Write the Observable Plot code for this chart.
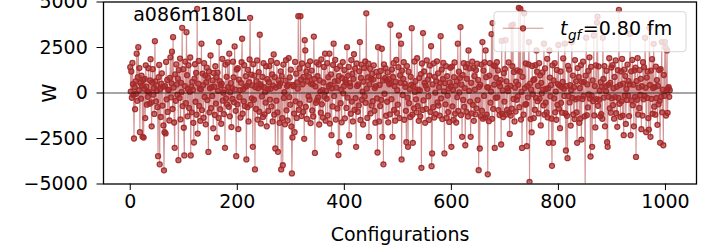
<!DOCTYPE html>
<html>
<head>
<meta charset="utf-8">
<script src="https://cdn.jsdelivr.net/npm/d3@7"></script>
<script src="https://cdn.jsdelivr.net/npm/@observablehq/plot@0.6"></script>
<style>
  html, body { margin: 0; padding: 0; background: white; }
  #chart svg { display: block; }
</style>
</head>
<body>
<div id="chart"></div>
<script>
// W per configuration (index = configuration number)
const W = [
  1420, 80, 1180, -260, 1650, 490, -110, -2500, 330, -890, 640, -40, 2160, -430, 870, 2520, 150, 1370, -2150, 560,
  -310, 960, 410, -2410, 720, -2450, 240, 780, -1380, 1520, 350, -640, 90, -210, 1360, 40, -590, 690, 1860, -520,
  -1830, 580, 1310, -90, 270, -1150, 2850, 640, -460, 420, 130, -780, -3470, 870, 1540, -3920, 210, -1320, 510, 1080,
  -690, 340, -1780, -4250, -2150, 380, -2220, 1710, -350, 720, -1040, 190, 160, -1510, 830, 1960, -240, 530, 2270, -880,
  3070, 300, -1620, -3010, 1020, -430, 1570, 470, -90, 790, -3690, 1260, -270, 1890, -1450, 560, 60, 3580, -720, 1310,
  -1910, -3430, 380, 1720, -560, 3340, 980, -1280, 220, 1520, -830, 70, 1950, -3430, 340, -1060, 610, 170, -1640, -2720,
  790, 1580, -480, 1110, -1190, 4620, -2230, 510, 1760, -710, 230, -1530, 210, 2710, -940, 1070, 430, -1360, 1640, -220,
  960, -1720, 580, 1390, -390, 840, -3240, 1180, -1060, 260, 2060, -830, 320, -160, 690, -1940, 1100, 350, -1210, 1470,
  -580, 870, -2460, 1120, 120, -1370, 2800, 650, -890, 430, -1690, 510, 1870, -420, 20, -1160, 180, -3010, 1560, -290,
  890, -620, 1680, 320, -760, 2160, -1280, 40, 540, -1870, 270, -330, 1720, 860, -510, 2560, 190, -980, -3470, 1290,
  -620, 1360, -1980, 730, -230, 150, -1350, 560, 1690, 2980, -1140, 210, -460, 1530, -720, 340, 920, -3650, 380, -780,
  1270, -1560, 590, 1840, 4130, -640, 1010, -290, 420, -2960, 1580, -370, 960, -4200, 320, -880, 650, 1790, -1460, 260,
  1150, -1030, 3200, 480, -1680, 370, -190, 880, -1320, 1640, 320, -1170, 50, -530, 1470, -1830, 760, 210, -980, 590,
  1480, -360, 230, 1760, -740, 1020, -1560, 410, 2120, -1190, 870, -3050, 300, -420, 1650, -1070, -3230, 690, 390, -1640,
  520, 1190, -4200, 930, -1380, -3970, 1560, -270, 40, -1720, 680, 1810, -950, 370, -1510, 450, 1920, -230, 860, -640,
  1280, -1840, -4420, -2440, 450, 370, -1130, -2150, 1710, -460, 1060, -1370, 580, 240, 4220, -920, 1350, -590, 4220, 730,
  -1270, 1620, 480, -1040, 890, -2520, 2900, 2340, -760, 1180, -1420, 640, 1530, -180, 890, -370, 1740, -1650, 510, 1230,
  -960, 470, -1290, 3100, 780, -3290, 360, -540, 1680, -410, 920, -240, 1570, -1730, 690, 90, -1080, 1850, -620, 160,
  -1350, 580, 1430, -190, 2160, -1520, 110, -310, 1640, -1230, 870, 390, 2160, -1680, 450, 1020, -2320, 250, -740, 1540,
  2710, -170, 640, 1820, -1460, 290, 1330, -850, 670, -3410, 930, -2700, 1480, -560, 190, -1610, 820, 1700, -20, 370,
  1260, -1390, 710, 580, -820, 2520, -250, 960, 1430, -2320, 540, 370, -1140, 1810, -470, 1050, -1560, 780, 2130, -930,
  1340, -280, -2960, 1620, 390, -1030, 470, -680, 1190, 2800, -1480, 830, 1560, -370, 70, -1730, 620, 1380, -190, 1730,
  -540, 4380, 240, -1370, 860, 1610, -2410, 470, 1330, -1120, 780, -690, 1050, -450, 740, 1520, -980, 270, -1630, 380,
  1160, -290, -3270, 2520, 930, -1560, 440, -720, 1210, -380, 2430, -2410, 690, -3920, 1570, -40, 820, 1360, -1250, 690,
  -480, 1130, -1610, 760, 480, -1170, 3750, 540, -340, 1290, -2410, 880, 1640, -930, 370, -1520, 610, 1820, -1090, 150,
  -640, 1420, 3160, -1380, 970, 560, 2710, -3650, 1230, -110, 780, 1690, -1470, 520, 340, -980, -2700, 1480, -250, -2960,
  1170, -560, 210, -1320, 890, 440, 3560, -1190, -2740, 380, -840, 1730, 60, 650, -350, -1060, 1910, -720, 190, -1530,
  820, 140, -1280, 1040, -4110, 1620, -930, 3290, -410, 1180, 560, -1640, 410, -870, 1790, 230, 730, -180, -1480, 960,
  1510, -1040, 2570, -4020, -3320, 470, -780, 1630, -1350, 890, 20, -1160, 640, 1740, -520, 1080, -690, 310, -1240, 560,
  3120, -290, 1290, -1430, 760, 1650, 90, -3320, 540, -620, 1480, -1370, 920, -140, -1050, 240, -1590, 580, 1390, 360,
  -2960, 1450, -730, 170, -1480, 870, 1680, -1140, 410, -1620, 640, -230, 2710, -980, 1170, 30, 820, 3620, -1210, 460,
  -2410, 990, -380, 1640, -760, 270, -2870, 1420, -1040, 780, 1590, -1290, 2340, 120, 1350, -470, -2410, 560, -1120, 1720,
  -650, 1380, -1530, 930, 190, -1170, 1260, -840, 1610, -390, 720, -4240, 340, -3050, 450, -1280, 1560, -970, 2800, -1410,
  1230, -160, 1680, -1340, 2340, 870, -1190, 320, -4470, 290, -1550, 960, 1640, -530, 80, 3240, -1420, 3840, -870, 1520,
  460, -3020, 1470, -260, 830, 1690, -240, 1240, -940, 560, -1210, 370, 720, -2830, 2860, -1150, 140, -1320, 1090, -470,
  1320, 2900, -1180, 640, -930, 260, 110, 1680, -1070, -2250, 390, -1240, 3700, -860, 1470, 3760, -330, 1150, -1560, 290,
  -1020, 630, -370, 1240, -190, 450, 4680, -780, 1180, 4620, -1460, 60, -3020, 890, 3530, -1190, 4380, 270, -640, 1620,
  -610, -2920, 380, -240, 1570, 2800, -4880, 520, -1430, 180, -2160, 1490, -60, 710, -1380, 760, -920, 1530, -270, 2340,
  1170, -450, 390, -1120, 1640, -310, 970, -1780, 560, -20, 1130, 180, -680, 2710, -1190, 1350, -530, 220, -1070, 1880,
  -1340, 260, -2740, 2340, 850, -180, 430, -1410, -4000, 1520, -2740, 690, -290, 1640, -1060, 80, -1470, 1270, -650, 490,
  2640, -860, 420, -1930, 1180, -540, 330, -1080, 610, 1900, 240, -160, 2710, -1120, -3160, 370, -1250, -3580, 1490, -170,
  1280, -520, 430, -1790, 150, 2800, -270, 960, -1180, 320, -1430, 1810, -350, 640, -1060, -2740, 1370, -290, 880, -1640,
  260, -1410, 1530, -2560, 590, -330, 1720, -170, 600, -1280, -5500, 950, 3040, -1220, 470, -790, 1210, -80, 1960, -310,
  -3490, 1440, -160, -2960, 690, -450, 3160, -1230, 380, -1890, 1520, -340, 3880, 4200, -700, 1460, -370, 130, -1280, 590,
  -1160, 340, -1420, 3040, 770, -250, 1480, -1830, 360, 90, 1220, -2700, -2960, 450, -210, 1910, -840, 560, -1080, 1400,
  -290, 1530, -670, 260, -1410, 880, -230, 1790, -1110, 340, -1860, 1250, -270, 4570, -590, 440, -1320, 1180, -460, 1870,
  -1240, 510, -2320, 1280, -150, 930, -1700, 220, -380, 1560, -140, 650, -1270, 470, 3250, -2320, 1190, -410, 1820, -670,
  460, -1830, 1240, -220, 1390, -3510, 650, -370, 1920, -1180, 300, -820, 1260, -110, 780, -1990, 370, -1240, 1690, -350,
  1420, -160, 3030, 290, -2150, 850, -270, 1180, -1380, -2010, 3580, 440, -2410, 1230, -320, 1860, -1140, 270, 2700, -750,
  330, -1190, 1450, -280, 710, -1750, 390, -620, 1260, -430, -2740, 1310, -200, 2800, -1060, 180, -2870, 990, -150, 2800,
  2500, -1240, 160, 2340, -1090, 250, 320, -210, 150
];
const xTicks = [0, 200, 400, 600, 800, 1000];
const yTicks = [-5000, -2500, 0, 2500, 5000];
const xLabel = "Configurations";
const yLabel = "W";
const ensembleLabel = "a086m180L";
const legendT = "t";
const legendSub = "gf";
const legendRest = "=0.80 fm";

const color = "#a52a2a";
const font = "DejaVu Sans";
const fs = 19;

const points = W.map((w, i) => ({cfg: i, w}));

const lineStyle = {stroke: color, strokeOpacity: 0.5, strokeWidth: 1.1};
const dotStyle = {r: 2.5, fill: color, fillOpacity: 0.65, stroke: color, strokeOpacity: 0.95, strokeWidth: 1.3};

const svg = Plot.plot({
  width: 718,
  height: 248,
  marginLeft: 103,
  marginRight: 22,
  marginTop: 1.5,
  marginBottom: 64.5,
  style: {fontFamily: font, fontSize: fs + "px", background: "white", color: "black"},
  x: {domain: [-50, 1058], ticks: xTicks, tickSize: 6.5, tickPadding: 3.5, tickFormat: d3.format("d"), label: null},
  y: {domain: [-5000, 5000], ticks: yTicks, tickSize: 6.5, tickPadding: 9.2, tickFormat: d3.format("d"), label: null},
  marks: [
    Plot.line(points, {x: "cfg", y: "w", ...lineStyle, clip: true}),
    Plot.dot(points, {x: "cfg", y: "w", ...dotStyle, clip: true}),
    Plot.ruleY([0], {stroke: "black", strokeOpacity: 0.7, strokeWidth: 1}),
    Plot.frame({stroke: "black", strokeWidth: 1.3}),
    Plot.text([ensembleLabel], {frameAnchor: "top-left", text: d => d, textAnchor: "start", lineAnchor: "top", dx: 29.7, dy: 5, fontSize: fs}),
    Plot.text([xLabel], {frameAnchor: "bottom", text: d => d, textAnchor: "middle", lineAnchor: "top", dy: 43, fontSize: fs}),
    Plot.text([yLabel], {frameAnchor: "left", text: d => d, rotate: -90, textAnchor: "middle", lineAnchor: "middle", dx: -54, fontSize: fs})
  ]
});

// Legend (drawn over the data like matplotlib's framed legend)
const g = d3.select(svg).append("g").attr("font-family", font).attr("text-anchor", "start");
g.append("rect")
  .attr("x", 494).attr("y", 11.7).attr("width", 192).attr("height", 40)
  .attr("rx", 3).attr("fill", "white").attr("fill-opacity", 0.8)
  .attr("stroke", "#cccccc").attr("stroke-opacity", 0.8).attr("stroke-width", 1);
g.append("line")
  .attr("x1", 502.7).attr("x2", 543.3).attr("y1", 28.3).attr("y2", 28.3)
  .attr("stroke", lineStyle.stroke).attr("stroke-opacity", lineStyle.strokeOpacity).attr("stroke-width", lineStyle.strokeWidth);
g.append("circle")
  .attr("cx", 523).attr("cy", 28.3).attr("r", dotStyle.r)
  .attr("fill", color).attr("fill-opacity", dotStyle.fillOpacity)
  .attr("stroke", color).attr("stroke-opacity", dotStyle.strokeOpacity).attr("stroke-width", dotStyle.strokeWidth);
const t = g.append("text").attr("x", 560).attr("y", 35).attr("font-size", fs).attr("fill", "black").attr("text-anchor", "start");
t.append("tspan").attr("font-style", "italic").text(legendT);
t.append("tspan").attr("font-style", "italic").attr("font-size", 13.5).attr("dy", 4.5).attr("dx", 0.5).text(legendSub);
t.append("tspan").attr("dy", -4.5).attr("dx", 1.5).text(legendRest);

document.getElementById("chart").appendChild(svg);
</script>
</body>
</html>
